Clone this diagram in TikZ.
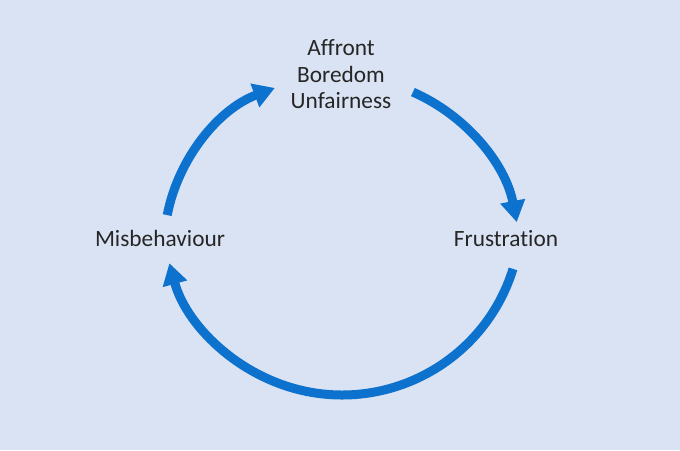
\documentclass[tikz,border=0pt]{standalone}
\usepackage{fontspec}
\setmainfont{Carlito}[Ligatures={NoCommon}]
\usetikzlibrary{arrows.meta}
\definecolor{fond}{RGB}{218,227,243}
\definecolor{fleche}{RGB}{13,114,206}
\definecolor{texte}{RGB}{38,38,38}
\tikzset{
  etiq/.style={inner sep=0pt,text=texte,font=\fontsize{17.5}{20}\selectfont},
  cycle/.style={draw=fleche,line width=6.75pt,-{Triangle[length=16pt,width=18pt]}}
}
\begin{document}
\begin{tikzpicture}[x=0.75pt,y=0.75pt]
%					Fond :
					\fill[fond] (0,0) rectangle (680,450);
					\useasboundingbox (0,0) rectangle (680,450);
%					Textes :
					\node[etiq,align=center,anchor=north] (haut) at (341,410.7) {Affront\\Boredom\\Unfairness};
					\node[etiq,anchor=base] (gauche) at (160,203.3) {Misbehaviour};
					\node[etiq,anchor=base] (droite) at (506,203.3) {Frustration};
%					Départs des flèches :
					\coordinate (d1) at (167.2,234.9);
					\coordinate (d2) at (412.9,357.9);
					\coordinate (d3) at (513.0,181.1);
%					Tracé des flèches :
					\draw[cycle] (d1) arc[start angle=168.9,end angle=110.6,radius=171];
					\draw[cycle] (d2) arc[start angle=66.3,end angle=10.9,radius=179];
					\draw[cycle] (d3) arc[start angle=-17.2,end angle=-164.7,radius=179];
				\end{tikzpicture}
\end{document}
